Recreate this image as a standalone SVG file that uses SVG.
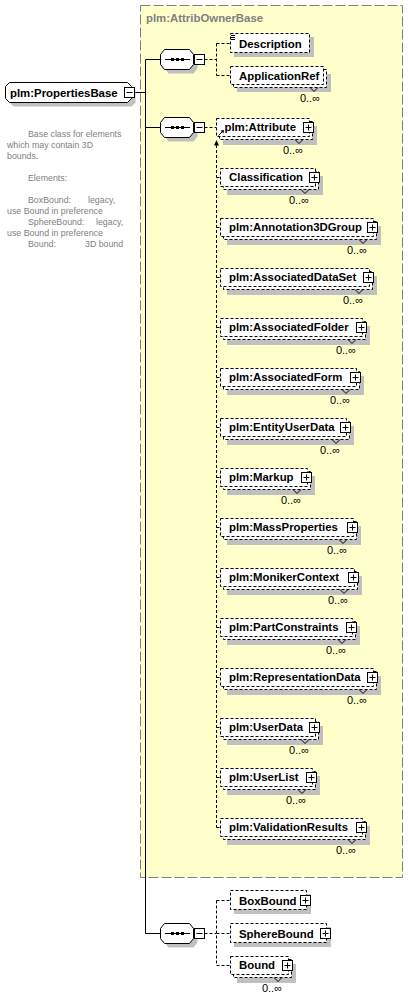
<svg xmlns="http://www.w3.org/2000/svg" width="408" height="999" viewBox="0 0 408 999">
<style>
.bg{fill:#ffffcc;stroke:#808080;stroke-dasharray:10,3}
.sh{fill:#c0c0c0}
.bx{fill:#fff;stroke:#000;stroke-dasharray:3,2}
.so{fill:#fff;stroke:#000}
.ln{stroke:#000;fill:none}
.dl{stroke:#000;fill:none;stroke-dasharray:3,2}
.t{font-family:"Liberation Sans",Arial,sans-serif;font-weight:bold;font-size:11.4px;fill:#000}
.m{font-family:"Liberation Sans",Arial,sans-serif;font-size:11px;fill:#000;text-anchor:end}
.d{font-family:"Liberation Sans",Arial,sans-serif;font-size:8.8px;fill:#808080}
.ti{font-family:"Liberation Sans",Arial,sans-serif;font-weight:bold;font-size:11.4px;fill:#808080}
</style>
<defs>
<g id="seq">
<path class="sh" d="M168.5,-6 H193.5 L197.5,-1 V9 L193.5,14 H168.5 L164.5,9 V-1 Z"/>
<path class="so" d="M164.5,-10 H189.5 L193.5,-5 V5 L189.5,10 H164.5 L160.5,5 V-5 Z"/>
<path class="ln" d="M165,0 H190"/>
<rect x="171" y="-1.5" width="3" height="3"/>
<rect x="176" y="-1.5" width="3" height="3"/>
<rect x="181" y="-1.5" width="3" height="3"/>
<rect class="so" x="194.5" y="-5" width="10" height="10"/>
<path class="ln" d="M196.5,0 H202.5"/>
</g>
<g id="plus">
<rect class="so" x="0.5" y="-4.5" width="10" height="10"/>
<path class="ln" d="M2.5,0.5 H8.5 M5.5,-2.5 V3.5"/>
</g>
</defs>

<rect class="bg" x="140.5" y="5.5" width="262" height="872"/>
<text class="ti" x="146" y="22">plm:AttribOwnerBase</text>

<g id="connectors">
<path class="ln" d="M134.5,92.5 H145.5 M145.5,59.5 V933.5 M145.5,59.5 H160.5 M145.5,127.5 H160.5 M145.5,933.5 H160.5"/>
<path class="dl" d="M204.5,59.5 H216.5 M216.5,43.5 V75.5 M216.5,43.5 H230.5 M216.5,75.5 H230.5"/>
<path class="dl" d="M204.5,127.5 H216.5 M216.5,145 V827.5 M216.5,177.5 H220.5 M216.5,227.5 H220.5 M216.5,277.5 H220.5 M216.5,327.5 H220.5 M216.5,377.5 H220.5 M216.5,427.5 H220.5 M216.5,477.5 H220.5 M216.5,527.5 H220.5 M216.5,577.5 H220.5 M216.5,627.5 H220.5 M216.5,677.5 H220.5 M216.5,727.5 H220.5 M216.5,777.5 H220.5 M216.5,827.5 H220.5"/>
<polygon points="216.5,140 214,145.5 219,145.5" fill="#000"/>
<path class="dl" d="M204.5,933.5 H216.5 M216.5,900.5 V965.5 M216.5,900.5 H230.5 M216.5,933.5 H230.5 M216.5,965.5 H230.5"/>
</g>

<g id="PropertiesBase">
<path class="sh" d="M13.5,86.5 H131.5 L135.5,90.5 V102.5 L131.5,106.5 H13.5 L9.5,102.5 V90.5 Z"/>
<path class="so" d="M9.5,82.5 H127.5 L131.5,86.5 V98.5 L127.5,102.5 H9.5 L5.5,98.5 V86.5 Z"/>
<text class="t" x="10" y="96.5">plm:PropertiesBase</text>
<rect class="so" x="124.5" y="87.5" width="10" height="10"/>
<path class="ln" d="M126.5,92.5 H132.5"/>
</g>

<g id="annotation">
<text class="d" x="28" y="137">Base class for elements</text>
<text class="d" x="7" y="148">which may contain 3D</text>
<text class="d" x="7" y="159">bounds.</text>
<text class="d" x="28" y="181">Elements:</text>
<text class="d" x="28" y="203">BoxBound:</text><text class="d" x="88" y="203">legacy,</text>
<text class="d" x="7" y="214">use Bound in preference</text>
<text class="d" x="28" y="225">SphereBound:</text><text class="d" x="96" y="225">legacy,</text>
<text class="d" x="7" y="236">use Bound in preference</text>
<text class="d" x="28" y="247">Bound:</text><text class="d" x="85" y="247">3D bound</text>
</g>

<g id="seq1"><use href="#seq" transform="translate(0,59.5)"/></g>
<g id="seq2"><use href="#seq" transform="translate(0,127.5)"/></g>
<g id="seq3"><use href="#seq" transform="translate(0,933.5)"/></g>

<g id="Description">
<rect class="sh" x="234" y="37" width="80" height="20"/>
<rect class="bx" x="230.5" y="33.5" width="79" height="19"/>
<path class="ln" d="M231,35.5 H235 M231,37.5 H235 M231,39.5 H235"/>
<text class="t" x="239" y="47.5">Description</text>
</g>

<g id="ApplicationRef">
<rect class="sh" x="237" y="74" width="94" height="18"/>
<rect class="bx" x="233.5" y="69.5" width="93" height="18"/>
<rect class="bx" x="230.5" y="66.5" width="93" height="18"/>
<text class="t" x="239" y="79.5">ApplicationRef</text>
<path class="ln" d="M310,87.5 L314,91.5 L318,87.5"/>
<text class="m" x="320" y="102">0..∞</text>
</g>

<g id="Attribute">
<rect class="sh" x="223" y="126" width="94" height="19"/>
<rect class="bx" x="219.5" y="121.5" width="93" height="18"/>
<rect class="bx" x="216.5" y="118.5" width="93" height="18"/>
<text class="t" x="224.5" y="131">plm:Attribute</text>
<path class="ln" d="M218.5,135.5 L222,132"/>
<polygon points="220.5,130.5 224,130 223.5,133.5" fill="#000"/>
<use href="#plus" transform="translate(303,127)"/>
<path class="ln" d="M295,139.5 L299,143.5 L303,139.5"/>
<text class="m" x="303" y="154">0..∞</text>
</g>

<g id="Classification">
<rect class="sh" x="227" y="176" width="96" height="19"/>
<rect class="bx" x="223.5" y="171.5" width="95" height="18"/>
<rect class="bx" x="220.5" y="168.5" width="95" height="18"/>
<text class="t" x="229" y="181">Classification</text>
<use href="#plus" transform="translate(309,177)"/>
<path class="ln" d="M301,189.5 L305,193.5 L309,189.5"/>
<text class="m" x="309" y="204">0..∞</text>
</g>

<g id="Annotation3DGroup">
<rect class="sh" x="227" y="226" width="154" height="19"/>
<rect class="bx" x="223.5" y="221.5" width="153" height="18"/>
<rect class="bx" x="220.5" y="218.5" width="153" height="18"/>
<text class="t" x="229" y="231">plm:Annotation3DGroup</text>
<use href="#plus" transform="translate(367,227)"/>
<path class="ln" d="M359,239.5 L363,243.5 L367,239.5"/>
<text class="m" x="367" y="254">0..∞</text>
</g>

<g id="AssociatedDataSet">
<rect class="sh" x="227" y="276" width="150" height="19"/>
<rect class="bx" x="223.5" y="271.5" width="149" height="18"/>
<rect class="bx" x="220.5" y="268.5" width="149" height="18"/>
<text class="t" x="229" y="281">plm:AssociatedDataSet</text>
<use href="#plus" transform="translate(363,277)"/>
<path class="ln" d="M355,289.5 L359,293.5 L363,289.5"/>
<text class="m" x="363" y="304">0..∞</text>
</g>

<g id="AssociatedFolder">
<rect class="sh" x="227" y="326" width="143" height="19"/>
<rect class="bx" x="223.5" y="321.5" width="142" height="18"/>
<rect class="bx" x="220.5" y="318.5" width="142" height="18"/>
<text class="t" x="229" y="331">plm:AssociatedFolder</text>
<use href="#plus" transform="translate(356,327)"/>
<path class="ln" d="M348,339.5 L352,343.5 L356,339.5"/>
<text class="m" x="356" y="354">0..∞</text>
</g>

<g id="AssociatedForm">
<rect class="sh" x="227" y="376" width="137" height="19"/>
<rect class="bx" x="223.5" y="371.5" width="136" height="18"/>
<rect class="bx" x="220.5" y="368.5" width="136" height="18"/>
<text class="t" x="229" y="381">plm:AssociatedForm</text>
<use href="#plus" transform="translate(350,377)"/>
<path class="ln" d="M342,389.5 L346,393.5 L350,389.5"/>
<text class="m" x="350" y="404">0..∞</text>
</g>

<g id="EntityUserData">
<rect class="sh" x="227" y="426" width="127" height="19"/>
<rect class="bx" x="223.5" y="421.5" width="126" height="18"/>
<rect class="bx" x="220.5" y="418.5" width="126" height="18"/>
<text class="t" x="229" y="431">plm:EntityUserData</text>
<use href="#plus" transform="translate(340,427)"/>
<path class="ln" d="M332,439.5 L336,443.5 L340,439.5"/>
<text class="m" x="340" y="454">0..∞</text>
</g>

<g id="Markup">
<rect class="sh" x="227" y="476" width="88" height="19"/>
<rect class="bx" x="223.5" y="471.5" width="87" height="18"/>
<rect class="bx" x="220.5" y="468.5" width="87" height="18"/>
<text class="t" x="229" y="481">plm:Markup</text>
<use href="#plus" transform="translate(301,477)"/>
<path class="ln" d="M293,489.5 L297,493.5 L301,489.5"/>
<text class="m" x="301" y="504">0..∞</text>
</g>

<g id="MassProperties">
<rect class="sh" x="227" y="526" width="134" height="19"/>
<rect class="bx" x="223.5" y="521.5" width="133" height="18"/>
<rect class="bx" x="220.5" y="518.5" width="133" height="18"/>
<text class="t" x="229" y="531">plm:MassProperties</text>
<use href="#plus" transform="translate(347,527)"/>
<path class="ln" d="M339,539.5 L343,543.5 L347,539.5"/>
<text class="m" x="347" y="554">0..∞</text>
</g>

<g id="MonikerContext">
<rect class="sh" x="227" y="576" width="135" height="19"/>
<rect class="bx" x="223.5" y="571.5" width="134" height="18"/>
<rect class="bx" x="220.5" y="568.5" width="134" height="18"/>
<text class="t" x="229" y="581">plm:MonikerContext</text>
<use href="#plus" transform="translate(348,577)"/>
<path class="ln" d="M340,589.5 L344,593.5 L348,589.5"/>
<text class="m" x="348" y="604">0..∞</text>
</g>

<g id="PartConstraints">
<rect class="sh" x="227" y="626" width="133" height="19"/>
<rect class="bx" x="223.5" y="621.5" width="132" height="18"/>
<rect class="bx" x="220.5" y="618.5" width="132" height="18"/>
<text class="t" x="229" y="631">plm:PartConstraints</text>
<use href="#plus" transform="translate(346,627)"/>
<path class="ln" d="M338,639.5 L342,643.5 L346,639.5"/>
<text class="m" x="346" y="654">0..∞</text>
</g>

<g id="RepresentationData">
<rect class="sh" x="227" y="676" width="154" height="19"/>
<rect class="bx" x="223.5" y="671.5" width="153" height="18"/>
<rect class="bx" x="220.5" y="668.5" width="153" height="18"/>
<text class="t" x="229" y="681">plm:RepresentationData</text>
<use href="#plus" transform="translate(367,677)"/>
<path class="ln" d="M359,689.5 L363,693.5 L367,689.5"/>
<text class="m" x="367" y="704">0..∞</text>
</g>

<g id="UserData">
<rect class="sh" x="227" y="726" width="96" height="19"/>
<rect class="bx" x="223.5" y="721.5" width="95" height="18"/>
<rect class="bx" x="220.5" y="718.5" width="95" height="18"/>
<text class="t" x="229" y="731">plm:UserData</text>
<use href="#plus" transform="translate(309,727)"/>
<path class="ln" d="M301,739.5 L305,743.5 L309,739.5"/>
<text class="m" x="309" y="754">0..∞</text>
</g>

<g id="UserList">
<rect class="sh" x="227" y="776" width="93" height="19"/>
<rect class="bx" x="223.5" y="771.5" width="92" height="18"/>
<rect class="bx" x="220.5" y="768.5" width="92" height="18"/>
<text class="t" x="229" y="781">plm:UserList</text>
<use href="#plus" transform="translate(306,777)"/>
<path class="ln" d="M298,789.5 L302,793.5 L306,789.5"/>
<text class="m" x="306" y="804">0..∞</text>
</g>

<g id="ValidationResults">
<rect class="sh" x="227" y="826" width="143" height="19"/>
<rect class="bx" x="223.5" y="821.5" width="142" height="18"/>
<rect class="bx" x="220.5" y="818.5" width="142" height="18"/>
<text class="t" x="229" y="831">plm:ValidationResults</text>
<use href="#plus" transform="translate(356,827)"/>
<path class="ln" d="M348,839.5 L352,843.5 L356,839.5"/>
<text class="m" x="356" y="854">0..∞</text>
</g>

<g id="BoxBound">
<rect class="sh" x="234" y="894" width="77" height="20"/>
<rect class="bx" x="230.5" y="890.5" width="76" height="19"/>
<text class="t" x="239" y="904.5">BoxBound</text>
<use href="#plus" transform="translate(300,900)"/>
</g>

<g id="SphereBound">
<rect class="sh" x="234" y="927" width="97" height="20"/>
<rect class="bx" x="230.5" y="923.5" width="96" height="19"/>
<text class="t" x="239" y="937.5">SphereBound</text>
<use href="#plus" transform="translate(320,933)"/>
</g>

<g id="Bound">
<rect class="sh" x="237" y="964" width="59" height="19"/>
<rect class="bx" x="233.5" y="959.5" width="58" height="18"/>
<rect class="bx" x="230.5" y="956.5" width="58" height="18"/>
<text class="t" x="239" y="969">Bound</text>
<use href="#plus" transform="translate(282,965)"/>
<path class="ln" d="M274,977.5 L278,981.5 L282,977.5"/>
<text class="m" x="282" y="992">0..∞</text>
</g>
</svg>
